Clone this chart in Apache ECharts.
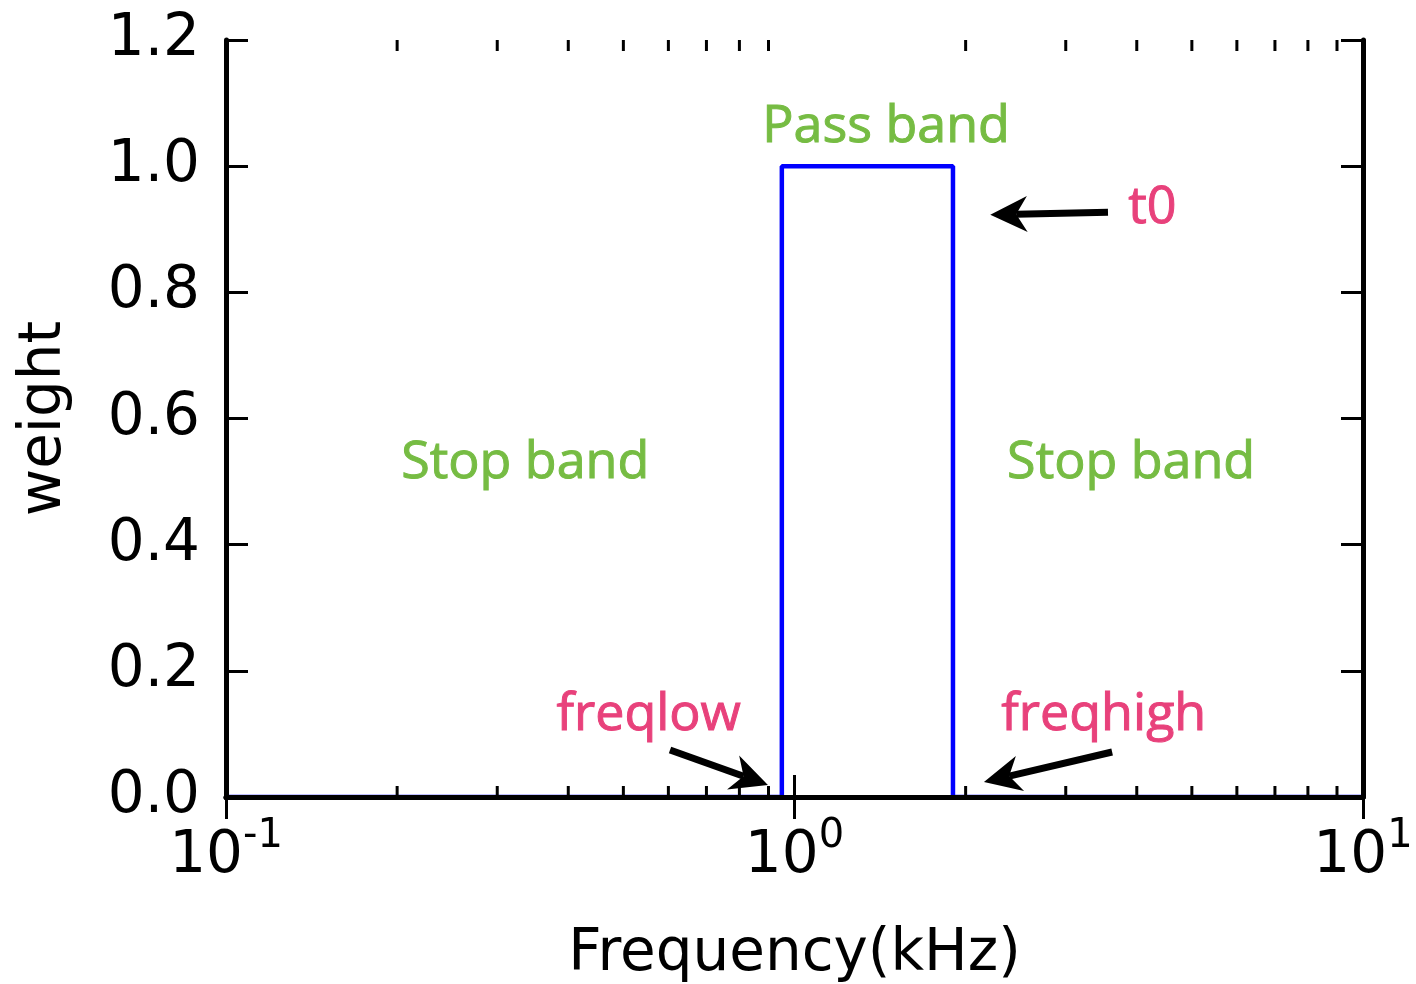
<!DOCTYPE html>
<html>
<head>
<meta charset="utf-8">
<script src="https://cdn.jsdelivr.net/npm/echarts@6/dist/echarts.min.js"></script>
<style>
html,body{margin:0;padding:0;background:#fff;}
#main{width:1416px;height:984px;}
</style>
</head>
<body>
<div id="main"></div>
<script>
// ---- data ----
const freqX = [0.1, 0.95, 0.95, 1.9, 1.9, 10];
const weightY = [0, 0, 1, 1, 0, 0];
const yTicks = [0, 0.2, 0.4, 0.6, 0.8, 1.0, 1.2];
const minorTicksX = [0.2, 0.3, 0.4, 0.5, 0.6, 0.7, 0.8, 0.9, 2, 3, 4, 5, 6, 7, 8, 9];
const annoText = ['Pass band', 'Stop band', 'Stop band', 't0', 'freqlow', 'freqhigh'];
const annoX = [1.449, 0.336, 3.91, 4.26, 0.554, 3.50];
const annoY = [1.062, 0.529, 0.529, 0.934, 0.130, 0.130];
const annoKind = [0, 0, 0, 1, 1, 1]; // 0 = band (green), 1 = marker (pink)
// arrows: tail x, tail y, tip x, tip y
const arrowTailX = [3.56, 0.604, 3.62];
const arrowTailY = [0.927, 0.0745, 0.0713];
const arrowTipX = [2.21, 0.898, 2.154];
const arrowTipY = [0.923, 0.019, 0.0238];

const GREEN = '#76bc43', PINK = '#e8417b';
const FONT = 'DejaVu Sans';
const ANNO_FONT = '52px "Open Sans", sans-serif';

const chart = echarts.init(document.getElementById('main'), null, {renderer: 'canvas'});

const supRich = {
  b: {fontSize: 58, fontFamily: FONT, color: '#000', lineHeight: 80},
  s: {fontSize: 40, fontFamily: FONT, color: '#000', lineHeight: 30, verticalAlign: 'top'}
};

const option = {
  backgroundColor: '#fff',
  animation: false,
  grid: {left: 226, right: 53, top: 40, bottom: 187, containLabel: false, outerBoundsMode: 'none'},
  xAxis: [{
    type: 'log', logBase: 10, min: 0.1, max: 10, position: 'bottom', z: 5,
    axisLine: {lineStyle: {color: '#000', width: 5}},
    axisTick: {inside: true, length: 22, lineStyle: {color: '#000', width: 3}},
    axisLabel: {
      margin: 20,
      formatter: function (v) {
        const e = Math.round(Math.log10(v));
        return '{b|10}{s|' + e + '}';
      },
      rich: supRich
    },
    splitLine: {show: false},
    name: 'Frequency(kHz)', nameLocation: 'middle', nameGap: 129,
    nameTextStyle: {fontSize: 58, fontFamily: FONT, color: '#000'}
  }, {
    type: 'log', logBase: 10, min: 0.1, max: 10, position: 'top', z: 5,
    axisLine: {lineStyle: {color: '#000', width: 5}},
    axisTick: {inside: true, length: 22, lineStyle: {color: '#000', width: 3}},
    axisLabel: {show: false},
    splitLine: {show: false}
  }],
  yAxis: [{
    type: 'value', min: 0, max: 1.2, interval: 0.2, position: 'left', z: 5,
    axisLine: {lineStyle: {color: '#000', width: 5}},
    axisTick: {inside: true, length: 22, lineStyle: {color: '#000', width: 3}},
    axisLabel: {margin: 26, fontSize: 58, fontFamily: FONT, color: '#000',
      formatter: v => v.toFixed(1)},
    splitLine: {show: false},
    name: 'weight', nameLocation: 'middle', nameGap: 152,
    nameTextStyle: {fontSize: 58, fontFamily: FONT, color: '#000'}
  }, {
    type: 'value', min: 0, max: 1.2, interval: 0.2, position: 'right', z: 5,
    axisLine: {lineStyle: {color: '#000', width: 5}},
    axisTick: {inside: true, length: 22, lineStyle: {color: '#000', width: 3}},
    axisLabel: {show: false},
    splitLine: {show: false}
  }],
  series: [{
    type: 'line',
    data: freqX.map((x, i) => [x, weightY[i]]),
    showSymbol: false, symbol: 'none',
    lineStyle: {color: '#0000ff', width: 4.5},
    z: 2
  }, {
    type: 'custom',
    data: minorTicksX.map(x => [x, 0]),
    clip: false, z: 6, silent: true,
    renderItem: function (params, api) {
      const v = api.value(0);
      const pb = api.coord([v, 0]);
      const pt = api.coord([v, 1.2]);
      return {type: 'group', children: [
        {type: 'line', shape: {x1: pb[0], y1: pb[1], x2: pb[0], y2: pb[1] - 11}, style: {stroke: '#000', lineWidth: 3}},
        {type: 'line', shape: {x1: pt[0], y1: pt[1], x2: pt[0], y2: pt[1] + 11}, style: {stroke: '#000', lineWidth: 3}}
      ]};
    }
  }, {
    type: 'custom',
    data: annoX.map((x, i) => [x, annoY[i], i]),
    clip: false, z: 7, silent: true,
    renderItem: function (params, api) {
      const i = api.value(2);
      const p = api.coord([api.value(0), api.value(1)]);
      return {type: 'text', x: p[0], y: p[1], style: {
        text: annoText[i], fill: annoKind[i] === 0 ? GREEN : PINK,
        font: ANNO_FONT, align: 'center', verticalAlign: 'middle',
        stroke: annoKind[i] === 0 ? GREEN : PINK, lineWidth: 1
      }};
    }
  }, {
    type: 'custom',
    data: arrowTailX.map((x, i) => [x, arrowTailY[i], arrowTipX[i], arrowTipY[i]]),
    clip: false, z: 8, silent: true,
    renderItem: function (params, api) {
      const a = api.coord([api.value(0), api.value(1)]);
      const b = api.coord([api.value(2), api.value(3)]);
      const dx = b[0] - a[0], dy = b[1] - a[1];
      const L = Math.sqrt(dx * dx + dy * dy);
      const ux = dx / L, uy = dy / L;
      const nx = -uy, ny = ux;
      const headLen = 37, headHalf = 18;
      const bx = b[0] - ux * headLen, by = b[1] - uy * headLen;
      const sx = b[0] - ux * (headLen * 0.7), sy = b[1] - uy * (headLen * 0.7);
      return {type: 'group', children: [
        {type: 'line', shape: {x1: a[0], y1: a[1], x2: sx, y2: sy}, style: {stroke: '#000', lineWidth: 7}},
        {type: 'polygon', shape: {points: [
          [b[0], b[1]],
          [bx + nx * headHalf, by + ny * headHalf],
          [sx, sy],
          [bx - nx * headHalf, by - ny * headHalf]
        ]}, style: {fill: '#000'}}
      ]};
    }
  }]
};
chart.setOption(option);
</script>
</body>
</html>
